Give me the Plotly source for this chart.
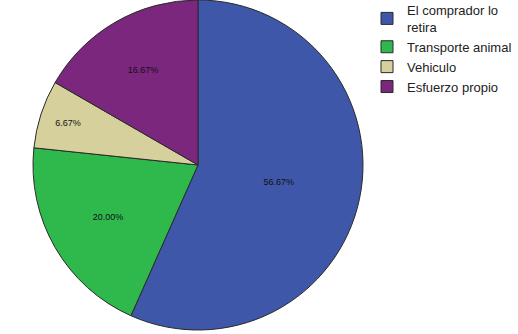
import plotly.graph_objects as go

categories = ["El comprador lo<br>retira", "Transporte animal", "Vehiculo", "Esfuerzo propio"]
values = [56.67, 20.00, 6.67, 16.67]
colors = ["#3e57a9", "#2fb84b", "#d6d09c", "#7b277d"]

W, H = 518, 334
cx, d = 198, 330

fig = go.Figure(go.Pie(
    labels=categories,
    values=values,
    sort=False,
    direction="clockwise",
    rotation=0,
    marker=dict(colors=colors, line=dict(color="#2a2a2a", width=1)),
    texttemplate="%{value:.2f}%",
    textposition="inside",
    insidetextorientation="horizontal",
    textfont=dict(family="Liberation Sans, Arial", size=9, color="#111111"),
    domain=dict(x=[(cx - d / 2) / W, (cx + d / 2) / W], y=[4 / H, 1]),
    hoverinfo="skip",
))

fig.update_layout(
    width=W, height=H,
    margin=dict(l=0, r=0, t=0, b=0, autoexpand=False),
    paper_bgcolor="white",
    plot_bgcolor="white",
    showlegend=True,
    legend=dict(
        x=367 / W, y=1.015, xanchor="left", yanchor="top",
        font=dict(family="Liberation Sans, Arial", size=13, color="#222222"),
        bgcolor="rgba(0,0,0,0)",
        itemwidth=30,
        tracegroupgap=0,
    ),
)

fig.write_html("out.html")
